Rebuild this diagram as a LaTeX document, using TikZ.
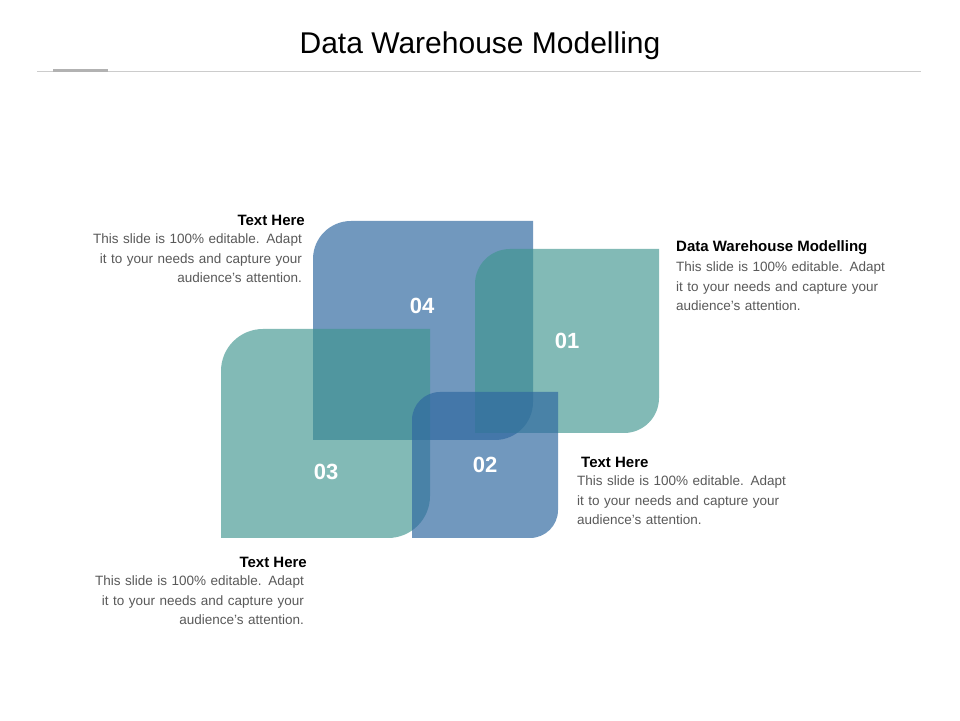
\documentclass[tikz,border=0pt]{standalone}
\usepackage{fontspec}
\setmainfont{Liberation Sans}
\begin{document}
\begin{tikzpicture}[x=1pt,y=1pt,
  bluebox/.style={fill={rgb,255:red,47;green,104;blue,160},fill opacity=0.68},
  tealbox/.style={fill={rgb,255:red,63;green,150;blue,143},fill opacity=0.65},
  num/.style={text=white,font=\fontsize{22}{24}\selectfont\bfseries},
  head/.style={font=\fontsize{15}{18}\selectfont\bfseries,inner sep=0},
  body/.style={font=\fontsize{13.5}{19.5}\selectfont,text={rgb,255:red,89;green,89;blue,89},inner sep=0,text width=260pt}]
\useasboundingbox (0,0) rectangle (960,720);
\fill[white] (0,0) rectangle (960,720);
\node[font=\fontsize{30}{34}\selectfont] (title) at (480,674) {Data Warehouse Modelling};
\draw[gray!40,line width=0.8pt] (37,649) -- (921,649);
\draw[gray!60,line width=3pt] (53,649) -- (108,649);
% shapes
\path[bluebox] (313,280) -- (313,461) arc[start angle=180,end angle=90,radius=38] -- (533,499) -- (533,318) arc[start angle=0,end angle=-90,radius=38] -- cycle;
\path[tealbox] (221,182) -- (221,349) arc[start angle=180,end angle=90,radius=42] -- (430,391) -- (430,224) arc[start angle=0,end angle=-90,radius=42] -- cycle;
\path[tealbox] (475,287) -- (475,436) arc[start angle=180,end angle=90,radius=35] -- (659,471) -- (659,322) arc[start angle=0,end angle=-90,radius=35] -- cycle;
\path[bluebox] (412,182) -- (412,300) arc[start angle=180,end angle=90,radius=28] -- (558,328) -- (558,210) arc[start angle=0,end angle=-90,radius=28] -- cycle;
% numbers
\node[num] (n4) at (422,414) {04};
\node[num] (n1) at (567,379) {01};
\node[num] (n3) at (326,248) {03};
\node[num] (n2) at (485,255) {02};
% texts
\node[head,anchor=east] (h4) at (305,500) {Text Here};
\node[body,anchor=north east,align=right] (b4) at (302,486) {This slide is 100\% editable. Adapt\\it to your needs and capture your\\audience's attention.};
\node[head,anchor=west] (h1) at (676,472) {Data Warehouse Modelling};
\node[body,anchor=north west,align=left] (b1) at (676,458) {This slide is 100\% editable. Adapt\\it to your needs and capture your\\audience's attention.};
\node[head,anchor=west] (h2) at (581,258) {Text Here};
\node[body,anchor=north west,align=left] (b2) at (577,244) {This slide is 100\% editable. Adapt\\it to your needs and capture your\\audience's attention.};
\node[head,anchor=east] (h3) at (307,158) {Text Here};
\node[body,anchor=north east,align=right] (b3) at (304,144) {This slide is 100\% editable. Adapt\\it to your needs and capture your\\audience's attention.};
\end{tikzpicture}
\end{document}
